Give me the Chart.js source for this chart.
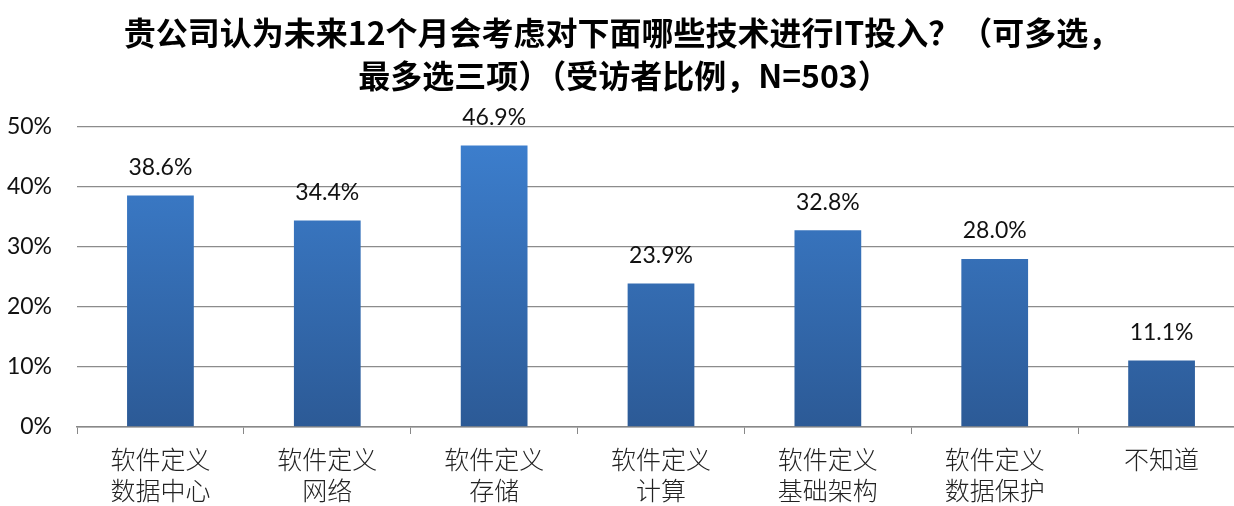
<!DOCTYPE html>
<html><head><meta charset="utf-8">
<script src="https://cdn.jsdelivr.net/npm/chart.js@4"></script>
<style>html,body{margin:0;padding:0;background:#fff;overflow:hidden}#w{width:1245px;height:506px}</style>
</head><body><div id="w"><canvas id="c"></canvas></div>
<script>
const titleLines = ["贵公司认为未来12个月会考虑对下面哪些技术进行IT投入？（可多选，", "最多选三项）（受访者比例，N=503）"];
const categories = [["软件定义","数据中心"],["软件定义","网络"],["软件定义","存储"],["软件定义","计算"],["软件定义","基础架构"],["软件定义","数据保护"],["不知道"]];
const values = [38.6, 34.4, 46.9, 23.9, 32.8, 28.0, 11.1];
const yTicks = [0, 10, 20, 30, 40, 50];

const numFont = "Lato, 'Open Sans', sans-serif";
const cjkFont = "'Noto Sans CJK SC', sans-serif";

const drawPlugin = {
  id: 'extras',
  afterDatasetsDraw(chart) {
    const ctx = chart.ctx;
    const meta = chart.getDatasetMeta(0);
    ctx.save();
    ctx.fillStyle = '#111';
    ctx.font = "23px " + numFont;
    ctx.textAlign = 'center';
    ctx.textBaseline = 'middle';
    meta.data.forEach((el, i) => {
      ctx.fillText(values[i].toFixed(1) + '%', el.x, el.y - 28);
    });
    ctx.restore();
  },
  afterDraw(chart) {
    const ctx = chart.ctx;
    ctx.save();
    ctx.fillStyle = '#000';
    ctx.font = "bold 32px " + cjkFont;
    ctx.textAlign = 'center';
    ctx.textBaseline = 'middle';
    ctx.fillText(titleLines[0], 622, 33);
    ctx.fillText(titleLines[1], 624, 76);
    ctx.restore();
  }
};

const ctx = document.getElementById('c').getContext('2d');
new Chart(ctx, {
  type: 'bar',
  data: {
    labels: categories,
    datasets: [{
      data: values,
      backgroundColor: (c) => {
        const ch = c.chart;
        const a = ch.chartArea;
        if (!a) return '#3572b8';
        const g = ch.ctx.createLinearGradient(0, a.top, 0, a.bottom);
        g.addColorStop(0, '#3d80d0');
        g.addColorStop(1, '#2c5a96');
        return g;
      },
      borderWidth: 0,
      categoryPercentage: 1,
      barPercentage: 0.40
    }]
  },
  options: {
    responsive: true,
    maintainAspectRatio: false,
    animation: false,
    layout: { padding: { top: 127, right: 0, left: 0, bottom: 0 } },
    plugins: { legend: { display: false }, title: { display: false }, tooltip: { enabled: false } },
    scales: {
      x: {
        afterFit(s) { s.height = 79; },
        grid: { display: true, drawOnChartArea: false, offset: true, tickLength: 7, color: '#888', tickColor: '#888' },
        border: { display: true, color: '#888', width: 1.5 },
        ticks: { color: '#222', font: { family: cjkFont, size: 25, weight: 300, lineHeight: 1.25 }, padding: 10, maxRotation: 0, autoSkip: false }
      },
      y: {
        min: 0, max: 50,
        afterFit(s) { s.width = 77; },
        afterBuildTicks(s) { s.ticks = yTicks.map(v => ({ value: v })); },
        grid: { color: '#8c8c8c', lineWidth: 1.3, drawTicks: false },
        border: { display: false },
        ticks: { color: '#111', font: { family: numFont, size: 23 }, padding: 25, callback: v => v + '%' }
      }
    }
  },
  plugins: [drawPlugin]
});
</script></body></html>
